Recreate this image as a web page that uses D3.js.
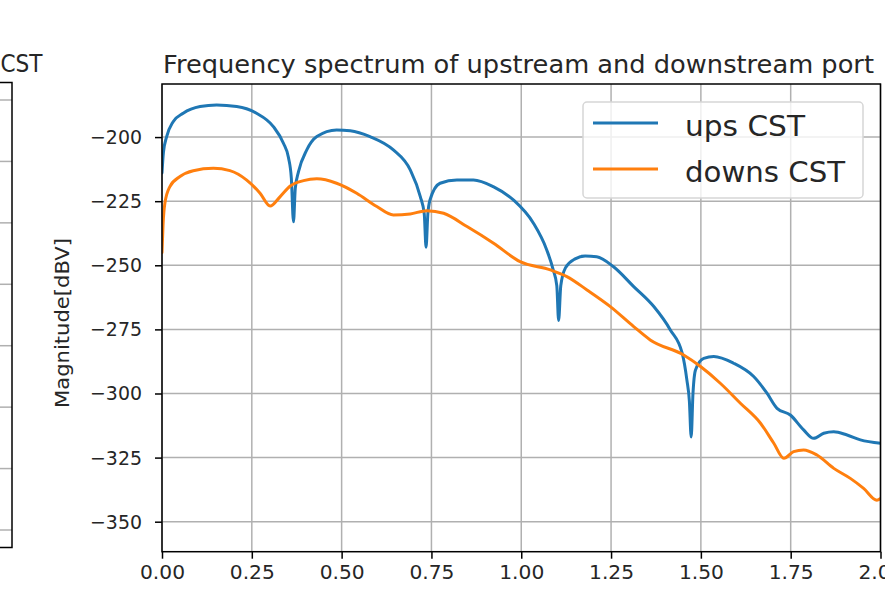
<!DOCTYPE html>
<html><head><meta charset="utf-8">
<script src="https://cdn.jsdelivr.net/npm/d3@7"></script>
<style>html,body{margin:0;padding:0;background:#fff;overflow:hidden}svg{display:block}text{font-family:"DejaVu Sans",sans-serif;fill:#262626}</style>
</head><body>
<svg id="chart" width="885" height="595"></svg>
<script>
// ---- data ----
const titleText = "Frequency spectrum of upstream and downstream port";
const leftTitleFragment = "CST";
const yLabel = "Magnitude[dBV]";
const seriesNames = ["ups CST", "downs CST"];
const xTicks = [0, 0.25, 0.5, 0.75, 1.0, 1.25, 1.5, 1.75, 2.0];
const yTicks = [-200, -225, -250, -275, -300, -325, -350];

const upsX = [0, 0.004, 0.013, 0.031, 0.059, 0.106, 0.152, 0.208, 0.263, 0.31, 0.338, 0.352, 0.36, 0.366, 0.371, 0.38, 0.403, 0.431, 0.486, 0.524, 0.579, 0.644, 0.691, 0.719, 0.73, 0.735, 0.74, 0.746, 0.774, 0.821, 0.867, 0.922, 0.978, 1.034, 1.071, 1.089, 1.099, 1.104, 1.11, 1.123, 1.15, 1.178, 1.21, 1.256, 1.313, 1.369, 1.415, 1.448, 1.461, 1.468, 1.473, 1.478, 1.485, 1.508, 1.536, 1.591, 1.647, 1.684, 1.712, 1.749, 1.786, 1.814, 1.842, 1.87, 1.907, 1.944, 2.0];
const upsY = [-214, -206, -199.8, -194, -190.7, -188.1, -187.5, -188.1, -190.7, -195.9, -202.4, -208, -216, -233, -220, -213.5, -205, -199.8, -197.2, -197.5, -199.8, -205, -212.8, -223.2, -230, -243, -230, -224.5, -218, -216.7, -216.7, -219.3, -224.5, -233.6, -244, -251.8, -258, -271.5, -258, -251, -247.5, -246.4, -246.7, -250.5, -258.3, -266.1, -275.2, -284.3, -294.7, -303, -317, -300, -290.8, -286.3, -285.6, -288.2, -293.4, -299.9, -305.8, -308.4, -314.2, -317.5, -315.5, -314.9, -316.2, -318.1, -319.4];

const downsX = [0, 0.003, 0.008, 0.022, 0.05, 0.087, 0.143, 0.189, 0.235, 0.273, 0.301, 0.329, 0.357, 0.394, 0.431, 0.486, 0.542, 0.598, 0.644, 0.691, 0.737, 0.784, 0.849, 0.923, 0.997, 1.081, 1.127, 1.183, 1.248, 1.313, 1.359, 1.452, 1.499, 1.554, 1.61, 1.666, 1.703, 1.731, 1.758, 1.786, 1.823, 1.87, 1.916, 1.953, 1.99, 2.0];
const downsY = [-245, -234, -225.8, -219.3, -215.4, -213.1, -212.2, -213.1, -216.7, -221.9, -226.9, -223.2, -219.1, -217, -216.3, -218, -221.9, -227.1, -230.4, -230, -228.7, -229.7, -234.9, -241.4, -248.6, -251.8, -254.4, -259.6, -266.1, -273.9, -279.1, -285, -289.5, -296, -303.8, -311.6, -319.4, -325.3, -322.7, -322, -324, -329.2, -333.1, -337, -341.6, -341];

const leftGridVals = [0, 1, 2, 3, 4, 5, 6, 7];

// ---- layout ----
const svg = d3.select("#chart");
const x = d3.scaleLinear().domain([0, 2]).range([162, 880.5]);
const y = d3.scaleLinear().domain([-361.7, -179.3]).range([551.7, 84]);
const colors = ["#1f77b4", "#ff7f0e"];

// left partial subplot
const yl = d3.scaleLinear().domain([0, 7]).range([100, 530]);
const gl = svg.append("g");
gl.selectAll("line").data(leftGridVals).enter().append("line")
  .attr("x1", -5).attr("x2", 12).attr("y1", d => yl(d)).attr("y2", d => yl(d))
  .attr("stroke", "#b0b0b0").attr("stroke-width", 1.5);
gl.append("rect").attr("x", -20).attr("y", 82.5).attr("width", 32).attr("height", 465)
  .attr("fill", "none").attr("stroke", "#000").attr("stroke-width", 1.5);
svg.append("text").attr("x", 0.5).attr("y", 72).attr("font-size", 25)
  .attr("textLength", 42).attr("lengthAdjust", "spacingAndGlyphs").text(leftTitleFragment);

// grid
const g = svg.append("g");
g.selectAll(".gx").data(xTicks).enter().append("line")
  .attr("x1", d => x(d)).attr("x2", d => x(d)).attr("y1", 84).attr("y2", 551.7)
  .attr("stroke", "#b0b0b0").attr("stroke-width", 1.5);
g.selectAll(".gy").data(yTicks).enter().append("line")
  .attr("x1", 162).attr("x2", 880.5).attr("y1", d => y(d)).attr("y2", d => y(d))
  .attr("stroke", "#b0b0b0").attr("stroke-width", 1.5);

// lines
svg.append("clipPath").attr("id", "clip").append("rect")
  .attr("x", 162).attr("y", 84).attr("width", 718.5).attr("height", 467.7);
const line = d3.line().x(d => x(d[0])).y(d => y(d[1])).curve(d3.curveMonotoneX);
const series = [d3.zip(upsX, upsY), d3.zip(downsX, downsY)];
svg.append("g").attr("clip-path", "url(#clip)").selectAll("path").data(series).enter().append("path")
  .attr("d", line).attr("fill", "none").attr("stroke", (d, i) => colors[i])
  .attr("stroke-width", 3).attr("stroke-linejoin", "round").attr("stroke-linecap", "round");

// axes
const xAxis = svg.append("g").attr("transform", "translate(0,551.7)")
  .call(d3.axisBottom(x).tickValues(xTicks).tickFormat(d3.format(".2f")).tickSize(7).tickPadding(6));
const yAxis = svg.append("g").attr("transform", "translate(162,0)")
  .call(d3.axisLeft(y).tickValues(yTicks).tickFormat(d => "\u2212" + Math.abs(d)).tickSize(7).tickPadding(13));
[xAxis, yAxis].forEach(a => {
  a.select(".domain").remove();
  a.selectAll(".tick line").attr("stroke", "#000").attr("stroke-width", 1.5);
  a.selectAll("text").attr("font-size", 20).attr("font-family", "DejaVu Sans").attr("fill", "#262626");
});
xAxis.selectAll("text").attr("dy", "0.72em").attr("textLength", 45).attr("lengthAdjust", "spacingAndGlyphs");
yAxis.selectAll("text").attr("textLength", 52).attr("lengthAdjust", "spacingAndGlyphs");

// spines
svg.append("rect").attr("x", 162).attr("y", 84).attr("width", 718.5).attr("height", 467.7)
  .attr("fill", "none").attr("stroke", "#000").attr("stroke-width", 1.5);

// title
svg.append("text").attr("x", 518.5).attr("y", 73).attr("text-anchor", "middle")
  .attr("font-size", 25).attr("textLength", 711).attr("lengthAdjust", "spacingAndGlyphs").text(titleText);

// y label
svg.append("text").attr("transform", "translate(69,323) rotate(-90)")
  .attr("text-anchor", "middle").attr("font-size", 19.5)
  .attr("textLength", 170).attr("lengthAdjust", "spacingAndGlyphs").text(yLabel);

// legend
const lg = svg.append("g");
lg.append("rect").attr("x", 583).attr("y", 102).attr("width", 280).attr("height", 96)
  .attr("rx", 4).attr("fill", "#fff").attr("fill-opacity", 0.8)
  .attr("stroke", "#d6d6d6").attr("stroke-width", 1.5);
const ly = [123, 169];
const lw = [120, 160];
seriesNames.forEach((name, i) => {
  lg.append("line").attr("x1", 593).attr("x2", 658).attr("y1", ly[i]).attr("y2", ly[i])
    .attr("stroke", colors[i]).attr("stroke-width", 3);
  lg.append("text").attr("x", 685).attr("y", ly[i] + 13).attr("font-size", 28)
    .attr("textLength", lw[i]).attr("lengthAdjust", "spacingAndGlyphs").text(name);
});
</script>
</body></html>
